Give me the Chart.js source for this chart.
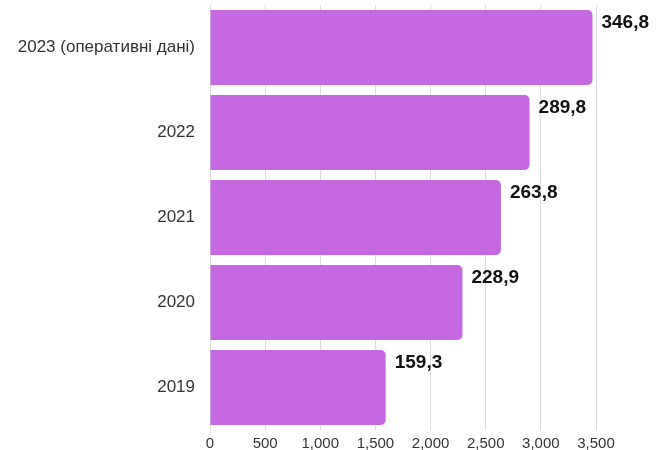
<!DOCTYPE html>
<html>
<head>
<meta charset="utf-8">
<script src="https://cdn.jsdelivr.net/npm/chart.js@4"></script>
<style>
    body { margin: 0; background: #fff; }
    #wrap { width: 656px; height: 450px; }
</style>
</head>
<body>
<div id="wrap"><canvas id="chart" width="656" height="450"></canvas></div>
<script>
// Chart data (bars top to bottom)
const years = ['2023 (оперативні дані)', '2022', '2021', '2020', '2019'];
const values = [3468, 2898, 2638, 2289, 1593];
const valueLabels = ['346,8', '289,8', '263,8', '228,9', '159,3'];
const xTicks = [0, 500, 1000, 1500, 2000, 2500, 3000, 3500];

const barColor = 'rgb(199, 104, 227)';

// Simple plugin to write the value next to the end of each bar
const valueLabelPlugin = {
    id: 'valueLabels',
    afterDatasetsDraw(chart) {
        const ctx = chart.ctx;
        const meta = chart.getDatasetMeta(0);
        ctx.save();
        ctx.font = 'bold 19px "Liberation Sans", Arial, sans-serif';
        ctx.fillStyle = '#111';
        ctx.textAlign = 'left';
        ctx.textBaseline = 'middle';
        meta.data.forEach((bar, i) => {
            const top = bar.y - bar.height / 2;
            ctx.fillText(valueLabels[i], bar.x + 9, top + 13);
        });
        ctx.restore();
    }
};

Chart.defaults.font.family = '"Liberation Sans", Arial, sans-serif';
Chart.defaults.color = '#333';

new Chart(document.getElementById('chart').getContext('2d'), {
    type: 'bar',
    data: {
        labels: years,
        datasets: [{
            data: values,
            backgroundColor: barColor,
            borderRadius: 5,
            borderSkipped: 'start',
            barPercentage: 0.88,
            categoryPercentage: 1.0
        }]
    },
    options: {
        indexAxis: 'y',
        responsive: false,
        animation: false,
        devicePixelRatio: 1,
        layout: {
            padding: { top: 5, right: 60, left: 0, bottom: 0 }
        },
        plugins: {
            legend: { display: false },
            tooltip: { enabled: false }
        },
        scales: {
            x: {
                min: 0,
                max: 3500,
                afterBuildTicks: (scale) => {
                    scale.ticks = xTicks.map(v => ({ value: v }));
                },
                afterFit: (scale) => { scale.height = 20; },
                ticks: {
                    padding: 5,
                    font: { size: 15 },
                    callback: (v) => v.toLocaleString('en-US')
                },
                grid: { color: '#dcdcdc', drawTicks: false },
                border: { display: false }
            },
            y: {
                afterFit: (scale) => {
                    scale.width = 210;
                    scale.paddingTop = 0;
                    scale.paddingBottom = 0;
                },
                ticks: {
                    padding: 15,
                    font: { size: 17 }
                },
                grid: { display: false, drawTicks: false },
                border: { display: false }
            }
        }
    },
    plugins: [valueLabelPlugin]
});
</script>
</body>
</html>
